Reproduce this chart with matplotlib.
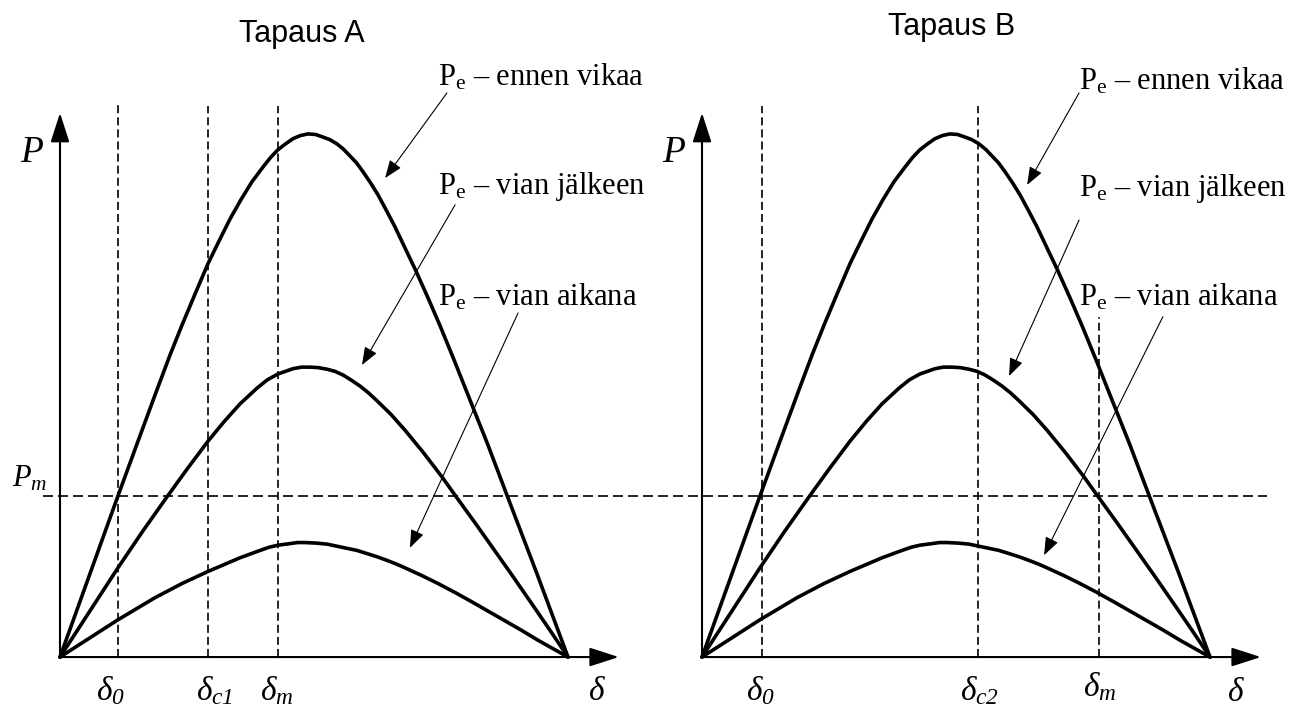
import matplotlib
matplotlib.use("Agg")
import matplotlib.pyplot as plt

plt.rcParams["mathtext.fontset"] = "custom"
plt.rcParams["mathtext.rm"] = "Liberation Serif:italic"
plt.rcParams["mathtext.it"] = "Liberation Serif:italic"
plt.rcParams["mathtext.sf"] = "Liberation Serif"
plt.rcParams["lines.scale_dashes"] = False

# Power-angle curves (rotor angle in degrees, power in per unit of the pre-fault peak)
delta_before = [0, 20.55, 27.64, 34.37, 38.98, 43.23, 47.83, 52.44, 56.34, 60.24, 64.13,
                68.03, 71.93, 74.59, 77.24, 79.90, 82.56, 85.22, 87.87, 90.53, 93.19,
                95.67, 98.15, 100.45, 102.76, 105.06, 107.36, 110.02, 112.68, 115.69,
                118.70, 122.24, 125.79, 130.22, 134.65, 139.61, 144.57, 151.48, 158.39,
                169.19, 180]
p_before = [0, 0.307, 0.411, 0.509, 0.575, 0.632, 0.691, 0.749, 0.792, 0.834, 0.871,
            0.905, 0.933, 0.951, 0.966, 0.977, 0.987, 0.993, 0.996, 0.995, 0.990,
            0.985, 0.977, 0.967, 0.954, 0.941, 0.924, 0.903, 0.880, 0.850,
            0.819, 0.779, 0.739, 0.686, 0.631, 0.566, 0.499, 0.406, 0.308,
            0.156, 0]

delta_after = [0, 20.55, 29.23, 37.91, 45.18, 52.44, 58.11, 63.78, 69.80, 73.52, 77.24,
               82.56, 85.57, 88.58, 91.60, 94.61, 97.44, 100.28, 103.29, 106.30, 109.31,
               112.32, 117.28, 122.24, 128.80, 135.35, 140.67, 146.87, 153.07, 160.16,
               167.24, 173.62, 180]
p_after = [0, 0.170, 0.239, 0.305, 0.359, 0.411, 0.448, 0.482, 0.512, 0.528, 0.539,
           0.549, 0.552, 0.552, 0.551, 0.548, 0.544, 0.537, 0.527, 0.516, 0.503,
           0.488, 0.462, 0.432, 0.389, 0.343, 0.303, 0.257, 0.210, 0.156,
           0.101, 0.051, 0]

delta_fault = [0, 20.55, 33.66, 43.23, 52.44, 58.11, 63.78, 70.87, 74.06, 77.24, 81.50,
               84.15, 86.81, 90.71, 94.61, 98.15, 101.69, 105.24, 108.78, 112.32, 115.87,
               119.23, 122.60, 128.27, 133.94, 139.96, 145.98, 151.83, 157.68, 163.52,
               169.37, 174.69, 180]
p_fault = [0, 0.071, 0.113, 0.140, 0.163, 0.176, 0.189, 0.203, 0.209, 0.213, 0.216,
           0.218, 0.218, 0.217, 0.215, 0.211, 0.207, 0.203, 0.197, 0.191, 0.184,
           0.177, 0.169, 0.155, 0.140, 0.123, 0.105, 0.087, 0.069, 0.051,
           0.032, 0.016, 0]

# Mechanical input power
p_m = 0.307

# Marked angles for the two cases
angles_a = [20.6, 52.4, 77.2]
angle_tops_a = [1.055, 1.05, 1.05]
angle_labels_a = [r"$\delta_{0}$", r"$\delta_{c1}$", r"$\delta_{m}$"]

angles_b = [21.2, 97.8, 140.7]
angle_tops_b = [1.05, 1.05, 0.648]
angle_labels_b = [r"$\delta_{0}$", r"$\delta_{c2}$", r"$\delta_{m}$"]

curve_labels = [r"P$_{\mathsf{e}}$ – ennen vikaa",
                r"P$_{\mathsf{e}}$ – vian jälkeen",
                r"P$_{\mathsf{e}}$ – vian aikana"]

W, H = 1310, 708
fig = plt.figure(figsize=(W / 100, H / 100), dpi=100)

ax_a = fig.add_axes([0, 0, 650 / W, 1])
ax_a.set_xlim(-21.26, 209.06)
ax_b = fig.add_axes([650 / W, 0, 660 / W, 1])
ax_b.set_xlim(-18.43, 215.43)
for ax in (ax_a, ax_b):
    ax.set_ylim(-0.097, 1.251)
    ax.axis("off")

serif = "Liberation Serif"
axis_arrow = dict(arrowstyle="-|>,head_length=18,head_width=5.8", lw=1.5, color="k",
                  shrinkA=0, shrinkB=0, mutation_scale=1)
thin_arrow = dict(arrowstyle="-|>,head_length=11,head_width=4.2", lw=0.8, color="k",
                  shrinkA=0, shrinkB=0, mutation_scale=1)


def draw_panel(ax, title, title_pos, angles, tops, labels, label_pos,
               text_pos, arrows, delta_label_pos):
    # axes with arrow heads
    ax.annotate("", xy=(0, 1.036), xytext=(0, 0), arrowprops=axis_arrow)
    ax.annotate("", xy=(198, 0), xytext=(0, 0), arrowprops=axis_arrow)

    # marked angles
    for a, top in zip(angles, tops):
        ax.plot([a, a], [0, top], color="k", lw=1.2, dashes=(5.8, 2.9))
    for lab, (x, y) in zip(labels, label_pos):
        ax.text(x, y, lab, fontsize=24, ha="center", va="baseline")
    ax.text(delta_label_pos[0], delta_label_pos[1], r"$\delta$", fontsize=24,
            ha="center", va="baseline")

    # curves
    for d, p in ((delta_before, p_before), (delta_after, p_after), (delta_fault, p_fault)):
        ax.plot(d, p, color="k", lw=2.6, solid_joinstyle="round", solid_capstyle="round")

    # curve labels with pointer arrows
    for txt, (tx, ty), (start, tip) in zip(curve_labels, text_pos, arrows):
        ax.text(tx, ty, txt, fontsize=22, family=serif, ha="left", va="baseline")
        ax.annotate("", xy=tip, xytext=start, arrowprops=thin_arrow)

    ax.text(title_pos[0], title_pos[1], title, fontsize=22, family="Liberation Sans",
            ha="center", va="baseline")
    ax.text(-10.0, 0.962, r"$P$", fontsize=27, ha="center", va="center")


draw_panel(ax_a, "Tapaus A", (85.7, 1.171), angles_a, angle_tops_a, angle_labels_a,
           [(17.9, -0.082), (54.6, -0.082), (76.9, -0.082)],
           [(133.9, 1.088), (133.9, 0.882), (133.9, 0.670)],
           [((137.1, 1.074), (115.2, 0.912)),
            ((140.0, 0.861), (107.0, 0.556)),
            ((162.3, 0.655), (124.0, 0.208))],
           (190.4, -0.082))

draw_panel(ax_b, "Tapaus B", (88.6, 1.185), angles_b, angle_tops_b, angle_labels_b,
           [(20.6, -0.082), (98.5, -0.082), (141.0, -0.074)],
           [(133.6, 1.080), (133.6, 0.878), (133.6, 0.670)],
           [((133.6, 1.074), (115.2, 0.899)),
            ((133.6, 0.832), (108.8, 0.535)),
            ((163.3, 0.648), (121.2, 0.194))],
           (189.1, -0.084))

# mechanical power level, drawn across both cases
ax_a.plot([-6.0, 427.7], [p_m, p_m], color="k", lw=1.2, dashes=(7.2, 3.6), clip_on=False)
ax_a.text(-10.6, 0.341, r"$P_{m}$", fontsize=22, ha="center", va="center")

fig.savefig("out.png", dpi=100)
